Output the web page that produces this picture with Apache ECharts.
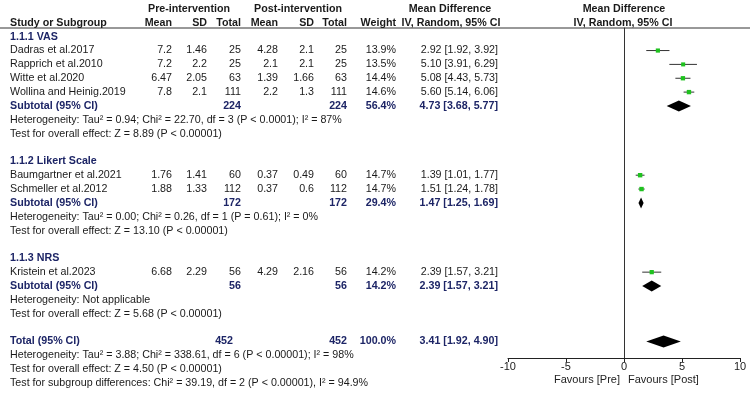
<!DOCTYPE html>
<html>
<head>
<meta charset="utf-8">
<script src="https://cdn.jsdelivr.net/npm/echarts@6/dist/echarts.min.js"></script>
<style>
  html, body { margin: 0; background: #fff; }
  #chart { width: 750px; height: 393px; }
</style>
</head>
<body>
<div id="chart"></div>
<script>
// study level data
const studies = ["Dadras et al.2017", "Rapprich et al.2010", "Witte et al.2020", "Wollina and Heinig.2019",
  "Baumgartner et al.2021", "Schmeller et al.2012", "Kristein et al.2023"];
const preMean = [7.2, 7.2, 6.47, 7.8, 1.76, 1.88, 6.68];
const preSD = [1.46, 2.2, 2.05, 2.1, 1.41, 1.33, 2.29];
const preN = [25, 25, 63, 111, 60, 112, 56];
const postMean = [4.28, 2.1, 1.39, 2.2, 0.37, 0.37, 4.29];
const postSD = [2.1, 2.1, 1.66, 1.3, 0.49, 0.6, 2.16];
const postN = [25, 25, 63, 111, 60, 112, 56];
const weight = [13.9, 13.5, 14.4, 14.6, 14.7, 14.7, 14.2];
const md = [2.92, 5.10, 5.08, 5.60, 1.39, 1.51, 2.39];
const ciLo = [1.92, 3.91, 4.43, 5.14, 1.01, 1.24, 1.57];
const ciHi = [3.92, 6.29, 5.73, 6.06, 1.77, 1.78, 3.21];

// subgroups
const groupNames = ["1.1.1 VAS", "1.1.2 Likert Scale", "1.1.3 NRS"];
const groupStudies = [[0, 1, 2, 3], [4, 5], [6]];
const groupN = [224, 172, 56];
const groupWeight = [56.4, 29.4, 14.2];
const groupMd = [4.73, 1.47, 2.39];
const groupLo = [3.68, 1.25, 1.57];
const groupHi = [5.77, 1.69, 3.21];
const groupHet = [
  "Heterogeneity: Tau² = 0.94; Chi² = 22.70, df = 3 (P < 0.0001); I² = 87%",
  "Heterogeneity: Tau² = 0.00; Chi² = 0.26, df = 1 (P = 0.61); I² = 0%",
  "Heterogeneity: Not applicable"
];
const groupZ = [
  "Test for overall effect: Z = 8.89 (P < 0.00001)",
  "Test for overall effect: Z = 13.10 (P < 0.00001)",
  "Test for overall effect: Z = 5.68 (P < 0.00001)"
];

// overall
const totalN = 452;
const totalMd = 3.41, totalLo = 1.92, totalHi = 4.90;
const totalNotes = [
  "Heterogeneity: Tau² = 3.88; Chi² = 338.61, df = 6 (P < 0.00001); I² = 98%",
  "Test for overall effect: Z = 4.50 (P < 0.00001)",
  "Test for subgroup differences: Chi² = 39.19, df = 2 (P < 0.00001), I² = 94.9%"
];
const axisMin = -10, axisMax = 10, axisStep = 5;
const favours = ["Favours [Pre]", "Favours [Post]"];

// layout
const ROW0 = 9, ROWH = 13.85;
const H = 393;
const COL = { label: 10, preMean: 172, preSD: 207, preN: 241, postMean: 278, postSD: 314,
  postN: 347, weight: 396, ci: 498 };
const NAVY = "#1d2566";
const INK = "#1a1a1a";
const FONT = "'Liberation Sans', Arial, sans-serif";
const FS = 10.7;

const fmtCI = (m, l, h) => `${m.toFixed(2)} [${l.toFixed(2)}, ${h.toFixed(2)}]`;

const cells = [];
function put(r, x, t, align, kind) {
  cells.push({ r, x, t: String(t), align: align || "right", kind: kind || "norm" });
}

// header rows
put(0, 189, "Pre-intervention", "center", "bold");
put(0, 298, "Post-intervention", "center", "bold");
put(0, 450, "Mean Difference", "center", "bold");
put(0, 624, "Mean Difference", "center", "bold");
put(1, COL.label, "Study or Subgroup", "left", "bold");
put(1, COL.preMean, "Mean", "right", "bold");
put(1, COL.preSD, "SD", "right", "bold");
put(1, COL.preN, "Total", "right", "bold");
put(1, COL.postMean, "Mean", "right", "bold");
put(1, COL.postSD, "SD", "right", "bold");
put(1, COL.postN, "Total", "right", "bold");
put(1, COL.weight, "Weight", "right", "bold");
put(1, 451, "IV, Random, 95% CI", "center", "bold");
put(1, 623, "IV, Random, 95% CI", "center", "bold");

const studyRow = [];
const groupRow = [];
let r = 2;
groupNames.forEach((g, gi) => {
  put(r, COL.label, g, "left", "navy");
  r++;
  groupStudies[gi].forEach(i => {
    studyRow[i] = r;
    put(r, COL.label, studies[i], "left");
    put(r, COL.preMean, preMean[i]);
    put(r, COL.preSD, preSD[i]);
    put(r, COL.preN, preN[i]);
    put(r, COL.postMean, postMean[i]);
    put(r, COL.postSD, postSD[i]);
    put(r, COL.postN, postN[i]);
    put(r, COL.weight, weight[i].toFixed(1) + "%");
    put(r, COL.ci, fmtCI(md[i], ciLo[i], ciHi[i]));
    r++;
  });
  groupRow[gi] = r;
  put(r, COL.label, "Subtotal (95% CI)", "left", "navy");
  put(r, COL.preN, groupN[gi], "right", "navy");
  put(r, COL.postN, groupN[gi], "right", "navy");
  put(r, COL.weight, groupWeight[gi].toFixed(1) + "%", "right", "navy");
  put(r, COL.ci, fmtCI(groupMd[gi], groupLo[gi], groupHi[gi]), "right", "navy");
  put(r + 1, COL.label, groupHet[gi], "left");
  put(r + 2, COL.label, groupZ[gi], "left");
  r += 4;
});
const totalRow = r;
put(r, COL.label, "Total (95% CI)", "left", "navy");
put(r, COL.preN - 8, totalN, "right", "navy");
put(r, COL.postN, totalN, "right", "navy");
put(r, COL.weight, "100.0%", "right", "navy");
put(r, COL.ci, fmtCI(totalMd, totalLo, totalHi), "right", "navy");
totalNotes.forEach((t, k) => put(r + 1 + k, COL.label, t, "left"));

const rowAt = y => (y - ROW0) / ROWH;
const plotTop = 28, plotBottom = 358;

const markers = studies.map((s, i) => [md[i], ciLo[i], ciHi[i], studyRow[i], weight[i]]);
const diamonds = groupNames.map((g, gi) => [groupMd[gi], groupLo[gi], groupHi[gi], groupRow[gi], 5.5]);
diamonds.push([totalMd, totalLo, totalHi, totalRow, 6]);

const chart = echarts.init(document.getElementById("chart"), null, { renderer: "canvas" });

chart.setOption({
  animation: false,
  backgroundColor: "#fff",
  grid: [
    { left: 0, right: 0, top: 0, bottom: 0 },
    { left: 508, right: 10, top: plotTop, height: plotBottom - plotTop }
  ],
  xAxis: [
    { gridIndex: 0, type: "value", min: 0, max: 750, show: false },
    {
      gridIndex: 1, type: "value", min: axisMin, max: axisMax, interval: axisStep,
      axisLine: { show: true, onZero: false, lineStyle: { color: "#222", width: 1 } },
      axisTick: { show: true, length: 4, lineStyle: { color: "#222" } },
      axisLabel: { color: "#222", fontSize: 11, fontFamily: FONT, margin: 3 },
      splitLine: { show: false }
    }
  ],
  yAxis: [
    { gridIndex: 0, type: "value", inverse: true, min: rowAt(0), max: rowAt(H), show: false },
    {
      gridIndex: 1, type: "value", inverse: true, min: rowAt(plotTop), max: rowAt(plotBottom),
      axisLine: { show: true, onZero: true, lineStyle: { color: "#333", width: 1 } },
      axisTick: { show: false }, axisLabel: { show: false }, splitLine: { show: false }
    }
  ],
  graphic: [
    { type: "line", shape: { x1: 0, y1: plotTop, x2: 750, y2: plotTop }, style: { stroke: "#333", lineWidth: 1 } },
    { type: "text", x: 620, y: 380, style: { text: favours[0], align: "right", verticalAlign: "middle",
      fontSize: 11, fontFamily: FONT, fill: "#222" } },
    { type: "text", x: 628, y: 380, style: { text: favours[1], align: "left", verticalAlign: "middle",
      fontSize: 11, fontFamily: FONT, fill: "#222" } }
  ],
  series: [
    {
      type: "custom", xAxisIndex: 0, yAxisIndex: 0, silent: true, clip: false,
      data: cells.map(c => [c.x, c.r]),
      renderItem: (params, api) => {
        const c = cells[params.dataIndex];
        const p = api.coord([api.value(0), api.value(1)]);
        return {
          type: "text", x: p[0], y: p[1],
          style: {
            text: c.t, align: c.align, verticalAlign: "middle",
            fontSize: FS, fontFamily: FONT,
            fontWeight: c.kind === "norm" ? "normal" : "bold",
            fill: c.kind === "navy" ? NAVY : INK
          }
        };
      }
    },
    {
      type: "custom", xAxisIndex: 1, yAxisIndex: 1, silent: true, clip: false,
      data: markers,
      renderItem: (params, api) => {
        const y = api.value(3);
        const lo = api.coord([api.value(1), y]);
        const hi = api.coord([api.value(2), y]);
        const c = api.coord([api.value(0), y]);
        const s = api.value(4) * 0.3;
        return {
          type: "group",
          children: [
            { type: "line", shape: { x1: lo[0], y1: lo[1], x2: hi[0], y2: hi[1] },
              style: { stroke: "#333", lineWidth: 1 } },
            { type: "rect", shape: { x: c[0] - s / 2, y: c[1] - s / 2, width: s, height: s },
              style: { fill: "#1fc21f" } }
          ]
        };
      }
    },
    {
      type: "custom", xAxisIndex: 1, yAxisIndex: 1, silent: true, clip: false,
      data: diamonds,
      renderItem: (params, api) => {
        const y = api.value(3);
        const h = api.value(4);
        const lo = api.coord([api.value(1), y]);
        const hi = api.coord([api.value(2), y]);
        const c = api.coord([api.value(0), y]);
        return {
          type: "polygon",
          shape: { points: [[lo[0], c[1]], [c[0], c[1] - h], [hi[0], c[1]], [c[0], c[1] + h]] },
          style: { fill: "#000" }
        };
      }
    }
  ]
});

window.addEventListener("resize", () => chart.resize());
</script>
</body>
</html>
